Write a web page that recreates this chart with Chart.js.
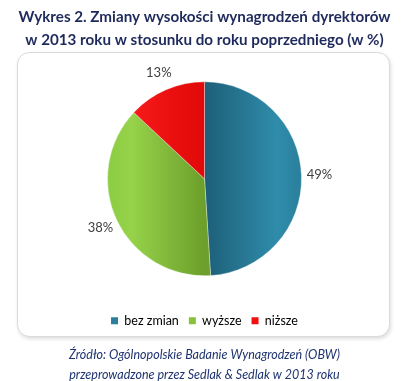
<!DOCTYPE html>
<html><head><meta charset="utf-8">
<script src="https://cdn.jsdelivr.net/npm/chart.js@4"></script>
<style>html,body{margin:0;padding:0;background:#fff}#wrap{width:409px;height:381px}</style>
</head><body><div id="wrap"><canvas id="c" width="409" height="381"></canvas></div>
<script>
const categories = ['bez zmian', 'wyższe', 'niższe'];
const values = [49, 38, 13];
const valueLabels = ['49%', '38%', '13%'];
const titleLines = ['Wykres 2. Zmiany wysokości wynagrodzeń dyrektorów', 'w 2013 roku w stosunku do roku poprzedniego (w %)'];
const sourceLines = ['Źródło: Ogólnopolskie Badanie Wynagrodzeń (OBW)', 'przeprowadzone przez Sedlak & Sedlak w 2013 roku'];

const solid = ['#2b7f9c', '#86c23c', '#f01010'];
function grad(ctx, i) {
  const ch = ctx.chart, a = ch.chartArea;
  if (!a) return solid[i];
  const c = ch.ctx;
  const cx = (a.left + a.right) / 2, r = 97;
  let g;
  if (i === 0) { g = c.createLinearGradient(cx, 0, cx + r, 0); g.addColorStop(0, '#1d5f78'); g.addColorStop(0.75, '#2f8cab'); g.addColorStop(1, '#2a7f9b'); }
  else if (i === 1) { g = c.createLinearGradient(cx - r, 0, cx, 0); g.addColorStop(0, '#8ccd42'); g.addColorStop(0.25, '#96d24a'); g.addColorStop(1, '#6c9f2b'); }
  else { g = c.createLinearGradient(cx - r, 0, cx, 0); g.addColorStop(0, '#ff2020'); g.addColorStop(1, '#e00808'); }
  return g;
}

const framePlugin = {
  id: 'frame',
  beforeDraw(chart) {
    const c = chart.ctx;
    c.save();
    c.shadowColor = 'rgba(0,0,0,0.16)'; c.shadowBlur = 4; c.shadowOffsetX = 1; c.shadowOffsetY = 2;
    c.beginPath(); c.roundRect(17.5, 52.5, 372, 284, 12);
    c.fillStyle = '#fff'; c.fill();
    c.shadowColor = 'transparent';
    c.strokeStyle = '#dadada'; c.lineWidth = 1; c.stroke();
    c.restore();
  }
};
const labelPlugin = {
  id: 'outLabels',
  afterDatasetsDraw(chart) {
    const c = chart.ctx, meta = chart.getDatasetMeta(0);
    c.save();
    c.font = '13px Lato, "DejaVu Sans", sans-serif'; c.fillStyle = '#404040';
    c.textAlign = 'center'; c.textBaseline = 'middle';
    meta.data.forEach((arc, i) => {
      const p = arc.getProps(['x', 'y', 'startAngle', 'endAngle', 'outerRadius']);
      const m = (p.startAngle + p.endAngle) / 2, rr = p.outerRadius + 18;
      c.fillText(valueLabels[i], p.x + Math.cos(m) * rr, p.y + Math.sin(m) * rr);
    });
    c.restore();
  }
};

new Chart(document.getElementById('c'), {
  type: 'pie',
  data: { labels: categories, datasets: [{ data: values,
    backgroundColor: (ctx) => grad(ctx, ctx.dataIndex),
    borderColor: 'rgba(255,255,255,0.35)', borderWidth: 1 }] },
  options: {
    responsive: false, animation: false, radius: 97,
    layout: { padding: { left: 0, right: 0, top: 0, bottom: 0 } },
    plugins: {
      title: { display: true, text: titleLines, color: '#1f2a5c',
        font: { family: 'Lato, "DejaVu Sans", sans-serif', weight: 700, size: 15.2, lineHeight: 1.5 }, padding: { top: 6, bottom: 1.5 } },
      subtitle: { display: true, position: 'bottom', text: sourceLines, color: '#1f3370',
        font: { family: 'Lato, "DejaVu Sans", sans-serif', style: 'italic', size: 12.5, lineHeight: 1.6 }, padding: { top: 8, bottom: -4 } },
      legend: { position: 'bottom', labels: { color: '#404040', font: { family: 'Lato, "DejaVu Sans", sans-serif', size: 12.5 },
        boxWidth: 7, boxHeight: 7, padding: 10,
        generateLabels: (chart) => categories.map((t, i) => ({ text: t, fillStyle: solid[i], strokeStyle: solid[i], lineWidth: 0, index: i, hidden: false })) } },
      tooltip: { enabled: false }
    }
  },
  plugins: [framePlugin, labelPlugin]
});
</script></body></html>
